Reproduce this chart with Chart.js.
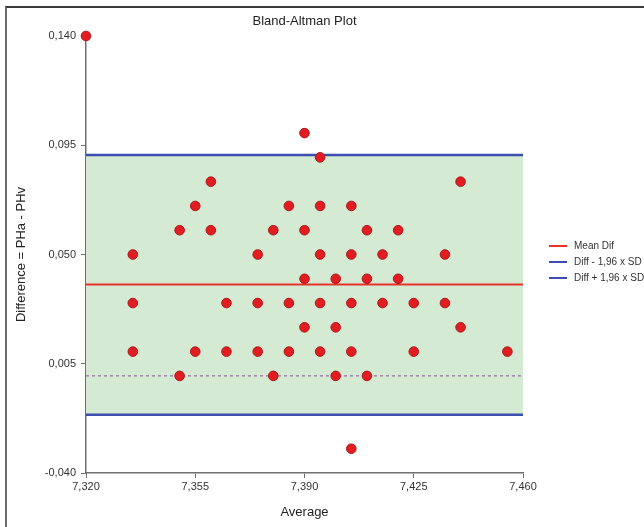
<!DOCTYPE html>
<html>
<head>
<meta charset="utf-8">
<script src="https://cdn.jsdelivr.net/npm/chart.js@4/dist/chart.umd.min.js"></script>
<style>
  html, body { margin: 0; padding: 0; background: #fff; }
  #wrap { position: relative; width: 644px; height: 527px; overflow: hidden; }
  #frame { position: absolute; left: 5px; top: 6px; width: 700px; height: 600px;
           border-left: 2px solid #6d6d6d; border-top: 2px solid #3a3a3a; pointer-events: none; }
  canvas { display: block; }
</style>
</head>
<body>
<div id="wrap">
  <canvas id="ba" width="644" height="527"></canvas>
  <div id="frame"></div>
</div>
<script>
// average of the two pH readings and their difference (PHa - PHv)
const avgVals = [
  7.320, 7.390, 7.395,
  7.360, 7.440,
  7.355, 7.385, 7.395, 7.405,
  7.350, 7.360, 7.380, 7.390, 7.410, 7.420,
  7.335, 7.375, 7.395, 7.405, 7.415, 7.435,
  7.390, 7.400, 7.410, 7.420,
  7.335, 7.365, 7.375, 7.385, 7.395, 7.405, 7.415, 7.425, 7.435,
  7.390, 7.400, 7.440,
  7.335, 7.355, 7.365, 7.375, 7.385, 7.395, 7.405, 7.425, 7.455,
  7.350, 7.380, 7.400, 7.410,
  7.405
];
const diffVals = [
  0.140, 0.100, 0.090,
  0.080, 0.080,
  0.070, 0.070, 0.070, 0.070,
  0.060, 0.060, 0.060, 0.060, 0.060, 0.060,
  0.050, 0.050, 0.050, 0.050, 0.050, 0.050,
  0.040, 0.040, 0.040, 0.040,
  0.030, 0.030, 0.030, 0.030, 0.030, 0.030, 0.030, 0.030, 0.030,
  0.020, 0.020, 0.020,
  0.010, 0.010, 0.010, 0.010, 0.010, 0.010, 0.010, 0.010, 0.010,
  0.000, 0.000, 0.000, 0.000,
  -0.030
];

const meanDif = 0.0376;
const lowerLimit = -0.016;   // mean - 1.96 SD
const upperLimit = 0.091;    // mean + 1.96 SD
const zeroLine = 0;

const xTicks = [7.320, 7.355, 7.390, 7.425, 7.460];
const yTicks = [-0.040, 0.005, 0.050, 0.095, 0.140];

const legendLabels = ['Mean Dif', 'Diff - 1,96 x SD', 'Diff + 1,96 x SD'];

const xMin = xTicks[0], xMax = xTicks[xTicks.length - 1];
const hline = y => [{ x: xMin, y: y }, { x: xMax, y: y }];
const fmt = v => Number(v).toFixed(3).replace('.', ',');

const FONT = "'Liberation Sans', Arial, sans-serif";
const RED = '#e8322c';
const BLUE = '#3d4fae';

// legend drawn to the right of the plot area
const sideLegend = {
  id: 'sideLegend',
  afterDraw(chart) {
    const { ctx, chartArea } = chart;
    const x0 = chartArea.right + 26;
    const rows = chart.data.datasets.filter(d => d.legendRow !== undefined);
    ctx.save();
    ctx.font = '10px ' + FONT;
    ctx.textBaseline = 'middle';
    rows.forEach(d => {
      const y = 246 + d.legendRow * 16;
      ctx.strokeStyle = d.borderColor;
      ctx.lineWidth = 2;
      ctx.beginPath();
      ctx.moveTo(x0, y);
      ctx.lineTo(x0 + 18, y);
      ctx.stroke();
      ctx.fillStyle = '#333';
      ctx.fillText(d.label, x0 + 25, y);
    });
    ctx.restore();
  }
};

new Chart(document.getElementById('ba'), {
  type: 'scatter',
  data: {
    datasets: [
      { label: 'points', data: avgVals.map((a, i) => ({ x: a, y: diffVals[i] })),
        backgroundColor: '#e11d22', borderColor: '#b0161a', borderWidth: 1,
        pointRadius: 4.8, clip: false, order: 0 },
      { label: legendLabels[0], data: hline(meanDif), type: 'line', showLine: true,
        borderColor: RED, borderWidth: 2, pointRadius: 0, fill: false, order: 1, legendRow: 0 },
      { label: legendLabels[2], data: hline(upperLimit), type: 'line', showLine: true,
        borderColor: BLUE, borderWidth: 2.5, pointRadius: 0,
        fill: { target: 3 }, backgroundColor: 'rgba(212,234,211,1)', order: 2, legendRow: 2 },
      { label: legendLabels[1], data: hline(lowerLimit), type: 'line', showLine: true,
        borderColor: BLUE, borderWidth: 2.5, pointRadius: 0, fill: false, order: 2, legendRow: 1 },
      { label: 'zero', data: hline(zeroLine), type: 'line', showLine: true,
        borderColor: '#8e4f9e', borderWidth: 1, borderDash: [3, 3], pointRadius: 0, fill: false, order: 3 }
    ]
  },
  options: {
    responsive: false,
    animation: false,
    layout: { padding: { left: 0, right: 121, top: 0, bottom: 0 } },
    plugins: {
      legend: { display: false },
      tooltip: { enabled: false },
      filler: { drawTime: 'beforeDatasetsDraw' },
      title: {
        display: true, text: 'Bland-Altman Plot', fullSize: false,
        color: '#222', font: { family: FONT, size: 13, weight: 'normal' },
        padding: { top: 14, bottom: 6.4 }
      }
    },
    scales: {
      x: {
        type: 'linear', min: xMin, max: xMax,
        afterBuildTicks: s => { s.ticks = xTicks.map(v => ({ value: v })); },
        afterFit: s => { s.height = 54; },
        border: { display: true, color: '#6f6f6f', width: 1.5 },
        grid: { drawOnChartArea: false, drawTicks: true, tickLength: 5, color: '#6f6f6f' },
        ticks: { padding: 2, color: '#333', font: { family: FONT, size: 11 }, callback: fmt, maxRotation: 0 },
        title: { display: true, text: 'Average', color: '#222',
                 font: { family: FONT, size: 13 }, padding: { top: 0, bottom: 7 } }
      },
      y: {
        type: 'linear', min: yTicks[0], max: yTicks[yTicks.length - 1],
        afterBuildTicks: s => { s.ticks = yTicks.map(v => ({ value: v })); },
        afterFit: s => { s.width = 86; },
        border: { display: true, color: '#6f6f6f', width: 1.5 },
        grid: { drawOnChartArea: false, drawTicks: true, tickLength: 5, color: '#6f6f6f' },
        ticks: { padding: 5, color: '#333', font: { family: FONT, size: 11 }, callback: fmt },
        title: { display: true, text: 'Difference = PHa - PHv', color: '#222',
                 font: { family: FONT, size: 13 }, padding: { top: 14, bottom: 0 } }
      }
    }
  },
  plugins: [sideLegend]
});
</script>
</body>
</html>
